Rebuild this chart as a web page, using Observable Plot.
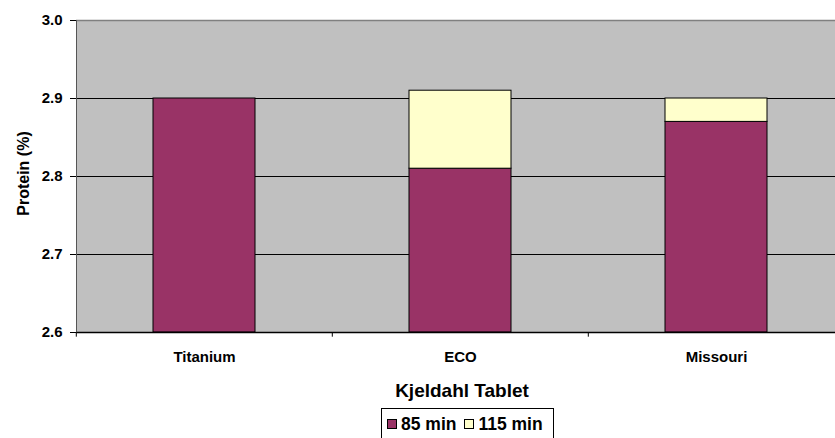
<!DOCTYPE html>
<html>
<head>
<meta charset="utf-8">
<script src="https://cdn.jsdelivr.net/npm/d3@7"></script>
<script src="https://cdn.jsdelivr.net/npm/@observablehq/plot@0.6"></script>
<style>
  html, body { margin: 0; padding: 0; background: #fff; }
  #wrap { position: relative; width: 835px; height: 438px; overflow: hidden; font-family: "Liberation Sans", Arial, sans-serif; }
  #legend { position: absolute; left: 381px; top: 408px; width: 173px; height: 32px; border: 1px solid #000; box-sizing: border-box;
    display: flex; align-items: center; justify-content: flex-start; padding-left: 5px; gap: 8px; font-weight: bold; font-size: 17.5px; color: #000; background: #fff; }
  #legend .item { display: flex; align-items: center; gap: 4px; }
  #legend .sw { width: 10px; height: 10px; border: 1px solid #000; box-sizing: border-box; }
</style>
</head>
<body>
<div id="wrap"></div>
<script>
const categories = ["Titanium", "ECO", "Missouri"];
const series = ["85 min", "115 min"];
const values85 = [2.90, 2.81, 2.87];
const values115 = [2.90, 2.91, 2.90]; // stacked top
const yTicks = [2.6, 2.7, 2.8, 2.9, 3.0];
const colors = ["#993366", "#FFFFCC"];
const yLabel = "Protein (%)";
const xLabel = "Kjeldahl Tablet";

const rows = [];
categories.forEach((c, i) => {
  rows.push({cat: c, series: series[0], y1: 2.6, y2: values85[i]});
  if (values115[i] > values85[i]) rows.push({cat: c, series: series[1], y1: values85[i], y2: values115[i]});
});

const font = "'Liberation Sans', Arial, sans-serif";
const chart = Plot.plot({
  width: 835,
  height: 405,
  marginTop: 20,
  marginBottom: 73,
  marginLeft: 76,
  marginRight: 0,
  style: {fontFamily: font, background: "transparent", color: "#000"},
  x: {domain: categories, range: [76, 845], paddingInner: 0.6, paddingOuter: 0.3, align: 0.5, axis: null},
  y: {domain: [2.6, 3.0], axis: null},
  color: {domain: series, range: colors},
  marks: [
    Plot.frame({fill: "#C0C0C0", stroke: null}),
    Plot.ruleY([2.7, 2.8, 2.9], {stroke: "#000", strokeWidth: 1}),
    Plot.ruleY([3.0], {stroke: "#808080", strokeWidth: 1.5}),
    Plot.barY(rows, {x: "cat", y1: "y1", y2: "y2", fill: "series", stroke: "#000", strokeWidth: 1}),
    Plot.ruleY([2.6], {stroke: "#000", strokeWidth: 1.5}),
    Plot.frame({anchor: "left", stroke: "#555"}),
    Plot.ruleX(categories, {x: d => d, y1: 2.6, y2: 2.594, dx: -128.2, stroke: "#000"}),
    Plot.axisY({ticks: yTicks, tickSize: 6, tickFormat: () => "", label: null}),
    Plot.text(yTicks, {y: d => d, text: d3.format(".1f"), frameAnchor: "left", textAnchor: "end", dx: -14,
      fontSize: 15, fontWeight: "bold", fill: "#000"}),
    Plot.text([yLabel], {text: d => d, frameAnchor: "left", textAnchor: "middle", dx: -53, dy: -3, rotate: -90,
      fontSize: 16, fontWeight: "bold", fill: "#000"}),
    Plot.text(categories, {x: d => d, text: d => d, frameAnchor: "bottom", lineAnchor: "middle", dy: 25,
      fontSize: 15, fontWeight: "bold", fill: "#000"}),
    Plot.text([xLabel], {text: d => d, frameAnchor: "bottom", lineAnchor: "middle", dx: 6, dy: 58,
      fontSize: 19, fontWeight: "bold", fill: "#000"})
  ]
});
document.getElementById("wrap").appendChild(chart);

const legend = document.createElement("div");
legend.id = "legend";
series.forEach((s, i) => {
  const it = document.createElement("span");
  it.className = "item";
  const sw = document.createElement("span");
  sw.className = "sw";
  sw.style.background = colors[i];
  const t = document.createElement("span");
  t.textContent = s;
  it.appendChild(sw); it.appendChild(t);
  legend.appendChild(it);
});
document.getElementById("wrap").appendChild(legend);
</script>
</body>
</html>
